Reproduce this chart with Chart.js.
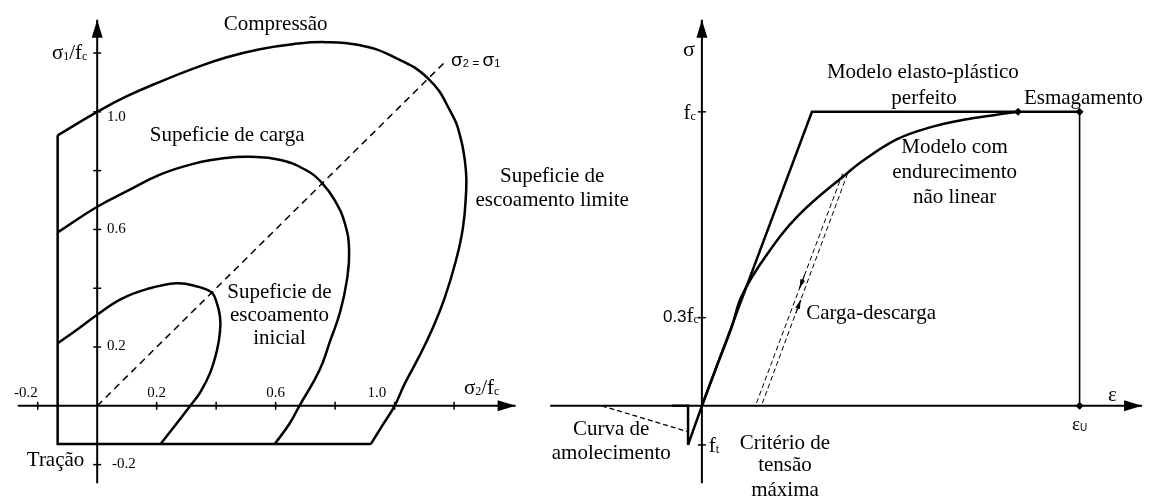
<!DOCTYPE html>
<html>
<head>
<meta charset="utf-8">
<script src="https://cdn.jsdelivr.net/npm/chart.js@4.4.1/dist/chart.umd.min.js"></script>
<style>
  body { margin: 0; background: #fff; }
  canvas { display: block; }
</style>
</head>
<body>
<canvas id="grafico" width="1155" height="502"></canvas>
<script>
"use strict";

// --- Plano σ2/fc x σ1/fc (superfícies de ruptura) ---
const supInicial = [[-0.133, 0.213], [-0.067, 0.26], [0, 0.31], [0.08, 0.363], [0.167, 0.397], [0.267, 0.417],
  [0.333, 0.407], [0.383, 0.387], [0.4, 0.357], [0.413, 0.303], [0.413, 0.253], [0.403, 0.19], [0.38, 0.113],
  [0.347, 0.047], [0.313, 0], [0.267, -0.06], [0.213, -0.13]];
const supCarga = [[-0.133, 0.59], [0, 0.677], [0.1, 0.73], [0.213, 0.787], [0.323, 0.823], [0.433, 0.843],
  [0.513, 0.847], [0.613, 0.837], [0.7, 0.803], [0.757, 0.757], [0.8, 0.697], [0.833, 0.62], [0.847, 0.53],
  [0.84, 0.43], [0.817, 0.32], [0.783, 0.22], [0.747, 0.12], [0.68, 0], [0.647, -0.06], [0.597, -0.13]];
const supLimite = [[-0.133, 0.92], [0, 1.0], [0.1, 1.053], [0.213, 1.103], [0.323, 1.147], [0.433, 1.185],
  [0.547, 1.213], [0.657, 1.23], [0.767, 1.237], [0.88, 1.227], [0.99, 1.19], [1.113, 1.113], [1.19, 0.997],
  [1.223, 0.907], [1.24, 0.797], [1.24, 0.72], [1.23, 0.607], [1.207, 0.497], [1.167, 0.363], [1.123, 0.253],
  [1.08, 0.163], [1.033, 0.073], [1.0, 0], [0.957, -0.07], [0.92, -0.13]];
const corteTracao = [[-0.133, 0.92], [-0.133, -0.13], [0.92, -0.13]];
const bissetriz = [[0, 0], [1.173, 1.173]];
const ticksSigma2 = [-0.2, 0.2, 0.4, 0.6, 0.8, 1.0, 1.2];
const ticksSigma1 = [-0.2, 0.2, 0.4, 0.6, 0.8, 1.0, 1.2];
const rotulosSigma2 = ["-0.2", "0.2", "0.6", "1.0"];
const rotulosSigma1 = ["1.0", "0.6", "0.2", "-0.2"];

// --- Diagrama σ x ε (ε/εu, σ/fc) ---
const ft = -0.133;
const elastoPlastico = [[-0.0367, ft], [0, 0], [0.2913, 1], [1, 1]];
const naoLinear = [[0, 0], [0.0388, 0.133], [0.0787, 0.267], [0.105, 0.373], [0.168, 0.507], [0.255, 0.647],
  [0.386, 0.793], [0.43, 0.837], [0.517, 0.907], [0.604, 0.947], [0.693, 0.973], [0.78, 0.99], [0.837, 1]];
const descarga = [[0.3727, 0.79], [0.1417, 0]];
const recarga = [[0.3858, 0.79], [0.1575, 0]];
const amolecimento = [[-0.265, 0], [-0.0394, -0.087]];
const quedaTracao = [[-0.0787, 0], [-0.0367, 0], [-0.0367, ft]];
const esmagamento = [[1, 1], [1, 0]];
const pontosNotaveis = [[0.837, 1], [1, 1], [1, 0]];
const ticksSigma = [1, 0.3, ft];

const xy = pts => pts.map(([x, y]) => ({ x, y }));

function serie(pts, ex, ey, extra) {
  return Object.assign({
    data: xy(pts), xAxisID: ex, yAxisID: ey, showLine: true,
    borderColor: "#000", backgroundColor: "#000", borderWidth: 2.5,
    pointRadius: 0, tension: 0, clip: false
  }, extra);
}

const SERIF = "'Liberation Serif', 'Times New Roman', serif";
const SANS = "'Liberation Sans', Arial, sans-serif";

// textos: coordenadas nos eixos do respectivo diagrama
const textos = [
  { p: "E", x: 0.6, y: 1.297, t: "Compressão" },
  { p: "E", x: 0.437, y: 0.92, t: "Supeficie de carga" },
  { p: "E", x: 1.53, y: 0.78, t: "Supeficie de" },
  { p: "E", x: 1.53, y: 0.697, t: "escoamento limite" },
  { p: "E", x: 0.613, y: 0.387, t: "Supeficie de" },
  { p: "E", x: 0.613, y: 0.307, t: "escoamento" },
  { p: "E", x: 0.613, y: 0.23, t: "inicial" },
  { p: "E", x: -0.14, y: -0.187, t: "Tração" },
  { p: "D", x: 0.585, y: 1.133, t: "Modelo elasto-plástico" },
  { p: "D", x: 0.588, y: 1.047, t: "perfeito" },
  { p: "D", x: 1.01, y: 1.047, t: "Esmagamento" },
  { p: "D", x: 0.669, y: 0.88, t: "Modelo com" },
  { p: "D", x: 0.669, y: 0.793, t: "endurecimento" },
  { p: "D", x: 0.669, y: 0.707, t: "não linear" },
  { p: "D", x: 0.276, y: 0.313, t: "Carga-descarga", a: "left" },
  { p: "D", x: -0.24, y: -0.08, t: "Curva de" },
  { p: "D", x: -0.24, y: -0.163, t: "amolecimento" },
  { p: "D", x: 0.22, y: -0.127, t: "Critério de" },
  { p: "D", x: 0.22, y: -0.203, t: "tensão" },
  { p: "D", x: 0.22, y: -0.287, t: "máxima" }
];

// textos com índices (tamanho menor)
const compostos = [
  { p: "E", x: -0.033, y: 1.203, a: "right", s: [["σ", 21, SERIF], ["1", 12, SERIF], ["/f", 21, SERIF], ["c", 12, SERIF]] },
  { p: "E", x: 1.233, y: 0.063, a: "left", s: [["σ", 21, SERIF], ["2", 12, SERIF], ["/f", 21, SERIF], ["c", 12, SERIF]] },
  { p: "E", x: 1.19, y: 1.18, a: "left", s: [["σ", 19, SANS], ["2", 11, SANS], [" = ", 12, SANS], ["σ", 19, SANS], ["1", 11, SANS]] },
  { p: "D", x: -0.034, y: 1.213, a: "center", s: [["σ", 22, SERIF]] },
  { p: "D", x: -0.016, y: 1.0, a: "right", s: [["f", 21, SERIF], ["c", 12, SERIF]] },
  { p: "D", x: -0.008, y: 0.31, a: "right", s: [["0.3", 17, SANS], ["f", 21, SERIF], ["c", 12, SERIF]] },
  { p: "D", x: 0.018, y: ft, a: "left", s: [["f", 21, SERIF], ["t", 12, SERIF]] },
  { p: "D", x: 1.087, y: 0.04, a: "center", s: [["ε", 21, SERIF]] },
  { p: "D", x: 1.0, y: -0.057, a: "center", s: [["ε", 19, SERIF], ["U", 10, SANS]] }
];

function escreveComposto(ctx, item, px, py) {
  let largura = 0;
  item.s.forEach(([t, tam, fam]) => { ctx.font = tam + "px " + fam; largura += ctx.measureText(t).width; });
  let x = item.a === "right" ? px - largura : item.a === "center" ? px - largura / 2 : px;
  const base = py + 7;
  ctx.textAlign = "left";
  ctx.textBaseline = "alphabetic";
  item.s.forEach(([t, tam, fam]) => {
    ctx.font = tam + "px " + fam;
    ctx.fillText(t, x, tam < 14 ? base + 1 : base);
    x += ctx.measureText(t).width;
  });
}

function seta(ctx, x0, y0, x1, y1, comp, larg) {
  ctx.beginPath(); ctx.moveTo(x0, y0); ctx.lineTo(x1, y1); ctx.stroke();
  const ang = Math.atan2(y1 - y0, x1 - x0);
  ctx.beginPath();
  ctx.moveTo(x1, y1);
  ctx.lineTo(x1 - comp * Math.cos(ang) + larg * Math.sin(ang), y1 - comp * Math.sin(ang) - larg * Math.cos(ang));
  ctx.lineTo(x1 - comp * Math.cos(ang) - larg * Math.sin(ang), y1 - comp * Math.sin(ang) + larg * Math.cos(ang));
  ctx.closePath(); ctx.fill();
}

const eixosETextos = {
  id: "eixosETextos",
  afterDatasetsDraw(chart) {
    const { ctx, scales } = chart;
    const ex = { E: scales.xE, D: scales.xD };
    const ey = { E: scales.yE, D: scales.yD };
    ctx.save();
    ctx.strokeStyle = "#000";
    ctx.fillStyle = "#000";
    ctx.lineWidth = 2;

    // eixos do plano σ2 x σ1
    const oxE = ex.E.getPixelForValue(0), oyE = ey.E.getPixelForValue(0);
    seta(ctx, ex.E.getPixelForValue(-0.267), oyE, ex.E.getPixelForValue(1.407), oyE, 18, 5.5);
    seta(ctx, oxE, ey.E.getPixelForValue(-0.263), oxE, ey.E.getPixelForValue(1.313), 18, 5.5);
    ctx.lineWidth = 1.5;
    ticksSigma2.forEach(v => {
      const px = ex.E.getPixelForValue(v);
      ctx.beginPath(); ctx.moveTo(px, oyE - 4); ctx.lineTo(px, oyE + 4); ctx.stroke();
    });
    ticksSigma1.forEach(v => {
      const py = ey.E.getPixelForValue(v);
      ctx.beginPath(); ctx.moveTo(oxE - 4, py); ctx.lineTo(oxE + 4, py); ctx.stroke();
    });

    // eixos σ x ε
    const oxD = ex.D.getPixelForValue(0), oyD = ey.D.getPixelForValue(0);
    ctx.lineWidth = 2;
    seta(ctx, ex.D.getPixelForValue(-0.4016), oyD, ex.D.getPixelForValue(1.1654), oyD, 18, 5.5);
    seta(ctx, oxD, ey.D.getPixelForValue(-0.263), oxD, ey.D.getPixelForValue(1.313), 18, 5.5);
    ctx.lineWidth = 1.5;
    ticksSigma.forEach(v => {
      const py = ey.D.getPixelForValue(v);
      ctx.beginPath(); ctx.moveTo(oxD - 4, py); ctx.lineTo(oxD + 4, py); ctx.stroke();
    });

    // setas de carga e descarga
    const sentido = (pts, vy, paraBaixo) => {
      const [a, b] = pts;
      const f = (vy - a[1]) / (b[1] - a[1]);
      const x = ex.D.getPixelForValue(a[0] + f * (b[0] - a[0])), y = ey.D.getPixelForValue(vy);
      const xa = ex.D.getPixelForValue(a[0]), ya = ey.D.getPixelForValue(a[1]);
      const xb = ex.D.getPixelForValue(b[0]), yb = ey.D.getPixelForValue(b[1]);
      let dx = xb - xa, dy = yb - ya;
      const n = Math.hypot(dx, dy); dx /= n; dy /= n;
      if (!paraBaixo) { dx = -dx; dy = -dy; }
      ctx.lineWidth = 1.2;
      seta(ctx, x - dx * 14, y - dy * 14, x, y, 9, 2.5);
    };
    sentido(descarga, 0.4, true);
    sentido(recarga, 0.36, false);

    // rótulos dos eixos
    ctx.font = "15px " + SERIF;
    ctx.textAlign = "center";
    ctx.textBaseline = "middle";
    const rotX = [-0.24, 0.2, 0.6, 0.94];
    rotulosSigma2.forEach((t, i) => ctx.fillText(t, ex.E.getPixelForValue(rotX[i]), ey.E.getPixelForValue(0.043)));
    ctx.textAlign = "left";
    const rotY = [0.983, 0.6, 0.203, -0.197];
    rotulosSigma1.forEach((t, i) => ctx.fillText(t, ex.E.getPixelForValue(i === 3 ? 0.05 : 0.033), ey.E.getPixelForValue(rotY[i])));

    ctx.font = "21px " + SERIF;
    textos.forEach(o => {
      ctx.textAlign = o.a || "center";
      ctx.fillText(o.t, ex[o.p].getPixelForValue(o.x), ey[o.p].getPixelForValue(o.y));
    });
    compostos.forEach(o => escreveComposto(ctx, o, ex[o.p].getPixelForValue(o.x), ey[o.p].getPixelForValue(o.y)));
    ctx.restore();
  }
};

new Chart(document.getElementById("grafico"), {
  type: "scatter",
  data: {
    datasets: [
      serie(supInicial, "xE", "yE", { tension: 0.4 }),
      serie(supCarga, "xE", "yE", { tension: 0.45 }),
      serie(supLimite, "xE", "yE", { tension: 0.45 }),
      serie(corteTracao, "xE", "yE", {}),
      serie(bissetriz, "xE", "yE", { borderWidth: 1.5, borderDash: [7, 5] }),
      serie(elastoPlastico, "xD", "yD", {}),
      serie(naoLinear, "xD", "yD", { tension: 0.4 }),
      serie(descarga, "xD", "yD", { borderWidth: 1, borderDash: [5, 3] }),
      serie(recarga, "xD", "yD", { borderWidth: 1, borderDash: [5, 3] }),
      serie(amolecimento, "xD", "yD", { borderWidth: 1.3, borderDash: [5, 3] }),
      serie(quedaTracao, "xD", "yD", { borderWidth: 2.5 }),
      serie(esmagamento, "xD", "yD", { borderWidth: 1.6 }),
      serie(pontosNotaveis, "xD", "yD", { showLine: false, pointRadius: 3.5, pointStyle: "rectRot", borderWidth: 1 })
    ]
  },
  options: {
    responsive: false,
    devicePixelRatio: 1,
    animation: false,
    layout: { padding: 0 },
    plugins: { legend: { display: false }, tooltip: { enabled: false } },
    scales: {
      xE: { type: "linear", display: false, min: -0.31, max: 3.54 },
      yE: { type: "linear", display: false, min: -0.31, max: 1.3633 },
      xD: { type: "linear", display: false, min: -1.8451, max: 1.1864 },
      yD: { type: "linear", display: false, min: -0.31, max: 1.3633 }
    }
  },
  plugins: [eixosETextos]
});
</script>
</body>
</html>
